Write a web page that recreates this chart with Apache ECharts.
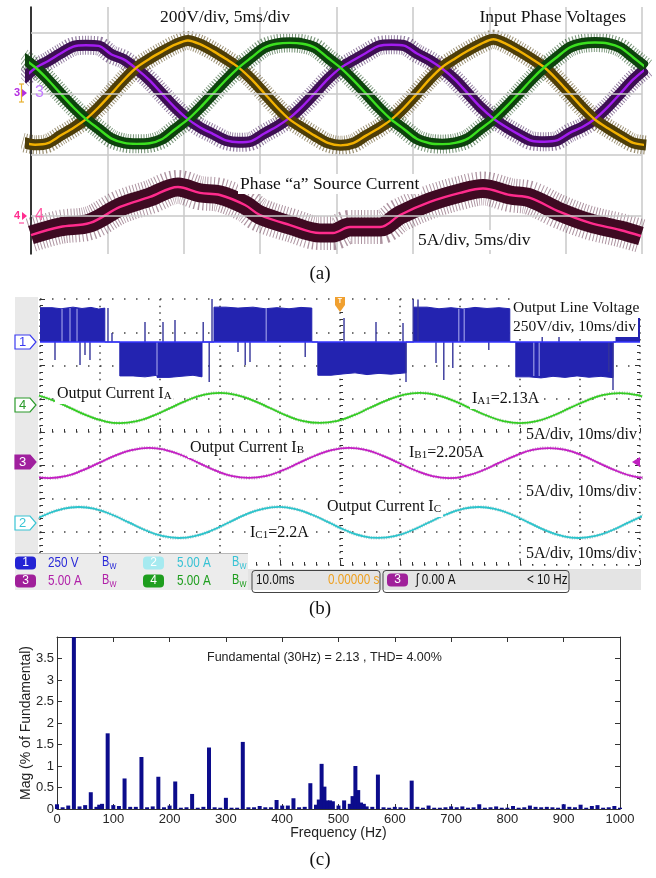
<!DOCTYPE html>
<html>
<head>
<meta charset="utf-8">
<script src="https://cdn.jsdelivr.net/npm/echarts@6.0.0/dist/echarts.min.js"></script>
<style>
html,body{margin:0;padding:0;background:#ffffff;}
#chart{width:656px;height:878px;}
</style>
</head>
<body>
<div id="chart"></div>
<script>
// ================= DATA =================
// Panel (a): input phase voltages (V, 200 V/div) sampled in ms (5 ms/div)
const tA = [-0.57,0.27,1.10,1.93,2.77,3.60,4.43,5.27,6.10,6.93,7.77,8.60,9.43,10.27,11.10,11.93,12.77,13.60,14.43,15.27,16.10,16.93,17.77,18.60,19.43,20.27,21.10,21.93,22.77,23.60,24.43,25.27,26.10,26.93,27.77,28.60,29.43,30.27,31.10,31.93,32.77,33.60,34.43,35.27,36.10,36.93,37.77,38.60,39.43,40.27];
const vPurple = [46,83,106,131,154,158,156,128,111,80,43,-2,-46,-84,-112,-133,-154,-160,-156,-131,-108,-80,-42,2,47,84,109,133,156,160,157,131,109,81,45,0,-45,-82,-110,-134,-155,-158,-154,-129,-110,-83,-44,1,46,82];
const vYellow = [-160,-168,-163,-138,-113,-84,-45,0,46,86,114,138,160,174,161,139,113,85,47,1,-45,-85,-113,-139,-162,-170,-163,-138,-114,-85,-46,0,47,87,115,140,162,178,163,140,114,86,46,0,-46,-86,-114,-139,-162,-169];
const vGreen = [118,86,46,0,-45,-84,-116,-148,-162,-165,-163,-149,-117,-85,-45,0,45,85,118,150,163,166,163,150,117,84,44,0,-46,-86,-117,-149,-163,-166,-162,-148,-116,-84,-44,0,46,86,119,151,164,167,164,150,118,85];
// Panel (a): phase "a" source current (A, 5 A/div)
const tSrc = [0,1.90,3.86,5.83,7.79,9.62,11.06,12.37,14.01,14.99,16.96,18.92,19.77,20.88,22.85,24.16,26.12,28.09,29.59,31.36,32.67,34.63,36.60,38.56,39.93];
const iSrc = [-1.56,-0.90,-0.57,0.74,1.56,2.38,1.89,1.72,0.90,0.08,-0.74,-1.39,-1.39,-0.90,-0.90,0.08,1.15,1.89,2.25,1.72,1.48,0.33,-0.57,-1.15,-1.64];

// Panel (b): output line voltage (V, 250 V/div) step breakpoints [ms, V]
const lineVoltage = [[0,258],[2.0,250],[3.5,262],[5.5,252],[7.0,260],[8.5,248],[9.8,255],[10.8,0],
 [13.3,-255],[15.5,-262],[17.5,-250],[19.5,-266],[21.5,-258],[23.5,-250],[25.5,-262],[27.0,0],
 [29.0,262],[31.0,255],[33.0,262],[35.5,250],[37.5,258],[39.5,250],[41.5,260],[43.5,255],[45.3,0],
 [46.3,-250],[48.5,-240],[50.5,-232],[52.5,-245],[54.5,-236],[56.5,-242],[58.5,-232],[61.0,0],
 [62.3,262],[64.5,250],[66.5,258],[68.5,248],[70.5,260],[72.5,252],[74.5,258],[76.5,250],[78.3,0],
 [79.3,-262],[81.5,-270],[83.5,-258],[85.5,-266],[87.5,-255],[89.5,-265],[91.5,-258],[93.5,-268],[95.5,0],
 [96.0,255],[98.0,262],[100,262]];
const voltSpikes = [[2.5,-135],[6.67,-173],[7.5,-98],[8.33,-135],[11.33,256],[12.0,68],[17.5,150],[20.5,150],[22.5,165],[27.2,150],[28.2,-300],[28.67,338],[33.0,-75],[34.2,-173],[35.0,-150],[44.2,-113],[50.67,180],[56.0,150],[60.5,143],[61.0,-300],[62.2,330],[63.0,320],[66.0,-158],[67.3,-286],[68.8,-196],[74.8,-60],[83.7,53],[86.5,53],[94.8,-226],[95.5,-361]];
const voltStreaks = [[3.67,250],[5.0,255],[6.17,250],[19.5,-250],[37.7,255],[69.8,250],[70.7,250],[82.3,-255],[83.2,-255]];
// Panel (b): output currents (A, 5 A/div), time in ms (10 ms/div)
const iaT = [-0.56,2.22,5.00,7.78,10.56,13.33,16.11,18.89,21.67,24.44,27.22,30.00,32.78,35.56,38.33,41.11,43.89,46.67,49.44,52.22,55.00,57.78,60.56,63.33,66.11,68.89,71.67,74.44,77.22,80.00,82.78,85.56,88.33,91.11,93.89,96.67,99.44,102.22];
const iaV = [1.96,1.13,0.02,-1.10,-1.95,-2.28,-1.98,-1.15,-0.02,1.12,1.97,2.27,1.95,1.12,0.00,-1.14,-1.97,-2.25,-1.96,-1.12,0.03,1.14,1.97,2.26,1.95,1.11,-0.02,-1.13,-1.96,-2.27,-1.97,-1.13,0.01,1.12,1.96,2.25,1.96,1.13];
const ibT = [-1.28,1.50,4.28,7.06,9.83,12.61,15.39,18.17,20.94,23.72,26.50,29.28,32.06,34.83,37.61,40.39,43.17,45.94,48.72,51.50,54.28,57.06,59.83,62.61,65.39,68.17,70.94,73.72,76.50,79.28,82.06,84.83,87.61,90.39,93.17,95.94,98.72,101.50];
const ibV = [-1.96,-2.26,-1.97,-1.12,0.01,1.14,1.96,2.27,1.95,1.13,-0.01,-1.14,-1.97,-2.25,-1.96,-1.12,0.02,1.13,1.97,2.26,1.96,1.12,0.00,-1.13,-1.96,-2.27,-1.95,-1.13,0.01,1.12,1.97,2.25,1.96,1.14,-0.01,-1.13,-1.96,-2.26];
const icT = [-1.87,0.91,3.69,6.47,9.24,12.02,14.80,17.58,20.36,23.13,25.91,28.69,31.47,34.24,37.02,39.80,42.58,45.36,48.13,50.91,53.69,56.47,59.24,62.02,64.80,67.58,70.36,73.13,75.91,78.69,81.47,84.24,87.02,89.80,92.58,95.36,98.13,100.91];
const icV = [0.00,1.17,2.02,2.33,2.02,1.17,0.01,-1.16,-2.02,-2.33,-2.01,-1.17,0.00,1.18,2.02,2.34,2.01,1.16,0.01,-1.17,-2.03,-2.32,-2.02,-1.17,0.00,1.17,2.02,2.33,2.01,1.17,-0.01,-1.18,-2.02,-2.33,-2.02,-1.16,0.01,1.17];

// Panel (c): harmonic spectrum [Hz, % of fundamental]
const spectrum = [[0,0.11],[10,0.04],[20,0.08],[30,100],[40,0.06],[50,0.09],[60,0.39],[70,0.05],[75,0.1],[80,0.12],
 [90,1.76],[100,0.09],[110,0.07],[120,0.71],[130,0.05],[140,0.05],[150,1.21],[160,0.04],[170,0.06],[180,0.75],
 [190,0.04],[200,0.08],[210,0.64],[220,0.03],[230,0.04],[240,0.35],[250,0.03],[260,0.05],[270,1.43],[280,0.04],
 [290,0.03],[300,0.26],[310,0.03],[320,0.03],[330,1.56],[340,0.04],[350,0.04],[360,0.07],[370,0.04],[380,0.04],
 [390,0.21],[400,0.08],[410,0.08],[420,0.25],[430,0.04],[440,0.05],[450,0.6],[460,0.1],[465,0.22],[470,1.05],
 [475,0.52],[480,0.2],[485,0.2],[490,0.18],[500,0.08],[510,0.2],[520,0.12],[525,0.3],[530,1.0],[535,0.44],
 [540,0.15],[545,0.12],[550,0.06],[560,0.05],[570,0.8],[580,0.04],[590,0.03],[600,0.05],[610,0.04],[620,0.03],
 [630,0.66],[640,0.05],[650,0.03],[660,0.08],[670,0.03],[680,0.03],[690,0.04],[700,0.06],[710,0.04],[720,0.06],
 [730,0.03],[740,0.04],[750,0.11],[760,0.03],[770,0.04],[780,0.06],[790,0.03],[800,0.03],[810,0.07],[820,0.03],
 [830,0.04],[840,0.08],[850,0.05],[860,0.04],[870,0.05],[880,0.04],[890,0.03],[900,0.11],[910,0.05],[920,0.04],
 [930,0.1],[940,0.03],[950,0.07],[960,0.09],[970,0.03],[980,0.04],[990,0.07],[1000,0.03]];
const freqTicks = {min:0, max:1000, step:100};
const magTicks = {min:0, max:4, step:0.5};

// ================= LAYOUT / HELPERS =================
const A = {left:31, top:7, width:611, height:247};
const B = {left:40, top:299, width:600, height:266};
const C = {left:57, top:637, width:563, height:172};
function rangeFor(g, zeroPx, pxPerDiv, unitsPerDiv){
  return {min: -((g.top+g.height)-zeroPx)/pxPerDiv*unitsPerDiv, max: (zeroPx-g.top)/pxPerDiv*unitsPerDiv};
}
function zip(t, v){ return t.map((x,i)=>[x, v[i]]); }
const SERIF = '"Liberation Serif","Times New Roman",serif';
const SANS = '"Liberation Sans",Arial,sans-serif';
const ctx2 = document.createElement('canvas').getContext('2d');
function tw(font, s){ ctx2.font = font; return ctx2.measureText(s).width; }
const G = [];
function addText(x, y, s, font, fill, align, sx){
  G.push({type:'text', x:x, y:y, z:100, silent:true, scaleX: sx || 1, originX:0, originY:0,
    style:{text:s, font:font, fill:fill, textFill:fill, align:align||'left', textAlign:align||'left', verticalAlign:'middle', textVerticalAlign:'middle'}});
}
function addRect(x,y,w,h,fill,stroke,r,lw){
  G.push({type:'rect', z:99, silent:true, shape:{x:x,y:y,width:w,height:h,r:r||0}, style:{fill:fill||null, stroke:stroke||null, lineWidth:lw||1}});
}
function addPoly(points, fill, stroke, lw){
  G.push({type:'polygon', z:100, silent:true, shape:{points:points}, style:{fill:fill||null, stroke:stroke||null, lineWidth:lw||1}});
}
function addLine(points, stroke, lw){
  G.push({type:'polyline', z:100, silent:true, shape:{points:points}, style:{fill:null, stroke:stroke, lineWidth:lw||1}});
}
function addParts(x, y, parts, fill, bg){
  let cx = x; const items = [];
  parts.forEach(p => { items.push([cx, p]); cx += tw(p[1], p[0]); });
  if (bg) addRect(x-2, y-10, cx-x+4, 20, '#ffffff');
  items.forEach(([px,p]) => addText(px, y+(p[2]||0), p[0], p[1], fill||'#000'));
}

// ---------- Panel (a) texts ----------
const fA = '17.5px ' + SERIF;
addText(160, 17, '200V/div, 5ms/div', fA, '#111');
addText(626, 17, 'Input Phase Voltages', fA, '#111', 'right');
addParts(240, 184, [['Phase \u201ca\u201d Source Current', fA]], '#111', true);
addParts(418, 240, [['5A/div, 5ms/div', fA]], '#111', true);
addText(320, 274, '(a)', '19px ' + SERIF, '#111', 'center');
addText(14, 93, '3', 'bold 11px ' + SANS, '#b42ee0');
addPoly([[22,89],[22,97],[27,93]], '#b42ee0');
addLine([[19,84],[24,84]], '#e8b030', 1.2); addLine([[21.5,84],[21.5,102]], '#e8b030', 1.2); addLine([[19,102],[24,102]], '#e8b030', 1.2);
addText(35, 93, '3', '16px ' + SANS, '#c47cff');
addText(14, 216, '4', 'bold 11px ' + SANS, '#ff2d8f');
addPoly([[22,212],[22,220],[27,216]], '#ff2d8f');
addLine([[19,223],[24,223]], '#ff2d8f', 1);
addText(35, 216, '4', '16px ' + SANS, '#ff5aa5');

// ---------- Panel (b) decorations ----------
addRect(15, 297, 23, 256, '#e9e9e9');
function tag(yc, color, filled, label){
  addPoly([[15,yc-7],[30,yc-7],[36,yc],[30,yc+7],[15,yc+7]], filled ? color : '#ffffff', color, 1.2);
  addText(22.5, yc, label, '13px ' + SANS, filled ? '#ffffff' : color, 'center');
}
tag(342, '#3a3af0', false, '1');
tag(405, '#2a9a2a', false, '4');
tag(462, '#a0209e', true, '3');
tag(523, '#38c4d4', false, '2');
addPoly([[335,297],[345,297],[345,305],[340,312],[335,305]], '#f0a030');
addText(340, 301, 'T', 'bold 7px ' + SANS, '#ffffff', 'center');
addPoly([[640,457],[640,467],[632,462]], '#c020c0');

const fB = '15.5px ' + SERIF, fB16 = '16px ' + SERIF, fSub = '11px ' + SERIF;
addParts(513, 308, [['Output Line Voltage', fB]], '#111', true);
addParts(513, 327, [['250V/div, 10ms/div', fB]], '#111', true);
addParts(57, 394, [['Output Current I', fB16], ['A', fSub, 2]], '#111', true);
addParts(472, 399, [['I', fB16], ['A1', fSub, 2], ['=2.13A', fB16]], '#111', true);
addParts(526, 435, [['5A/div, 10ms/div', fB16]], '#111', true);
addParts(190, 448, [['Output Current I', fB16], ['B', fSub, 2]], '#111', true);
addParts(409, 453, [['I', fB16], ['B1', fSub, 2], ['=2.205A', fB16]], '#111', true);
addParts(526, 492, [['5A/div, 10ms/div', fB16]], '#111', true);
addParts(327, 507, [['Output Current I', fB16], ['C', fSub, 2]], '#111', true);
addParts(250, 533, [['I', fB16], ['C1', fSub, 2], ['=2.2A', fB16]], '#111', true);
addParts(526, 554, [['5A/div, 10ms/div', fB16]], '#111', true);
addText(320, 609, '(b)', '19px ' + SERIF, '#111', 'center');

// status bar
addRect(15, 553, 233, 37, '#ececec');
addLine([[15,553.5],[248,553.5]], '#b8b8b8', 1);
addRect(248, 569, 393, 21, '#e4e4e4');
const SX = 0.78;
const fS = '15px ' + SANS, fBw = '14px ' + SANS, fW = '9.5px ' + SANS;
function badge(x, yc, fill, label){
  addRect(x, yc-6.5, 21, 13, fill, null, 4);
  addText(x+10.5, yc, label, '12px ' + SANS, '#ffffff', 'center');
}
function bw(x, yc, color){ addText(x, yc-1, 'B', fBw, color, 'left', SX); addText(x+7.5, yc+3, 'W', fW, color, 'left', SX); }
badge(15, 563, '#2424d4', '1'); addText(48, 563, '250 V', fS, '#2a2ad8', 'left', SX); bw(102, 563, '#2a2ad8');
badge(143, 563, '#a6eaf0', '2'); addText(177, 563, '5.00 A', fS, '#36c2d4', 'left', SX); bw(232, 563, '#36c2d4');
badge(15, 581, '#a0209a', '3'); addText(48, 581, '5.00 A', fS, '#b020a8', 'left', SX); bw(102, 581, '#b020a8');
badge(143, 581, '#1e9e1e', '4'); addText(177, 581, '5.00 A', fS, '#1e9e1e', 'left', SX); bw(232, 581, '#1e9e1e');
addRect(252, 570.5, 128, 22, null, '#444', 3, 1);
addText(256, 580, '10.0ms', fS, '#111', 'left', SX);
addText(328, 580, '0.00000 s', fS, '#eea020', 'left', SX);
addRect(383, 570.5, 186, 22, null, '#444', 3, 1);
badge(387, 580, '#a0209a', '3');
addText(416, 580, '\u0283 0.00 A', fS, '#111', 'left', SX);
addText(527, 580, '< 10 Hz', fS, '#111', 'left', SX);

// ---------- Panel (c) texts ----------
addText(207, 658, 'Fundamental (30Hz) = 2.13 , THD= 4.00%', '12.5px ' + SANS, '#222');
addText(320, 860, '(c)', '19px ' + SERIF, '#111', 'center');

// ================= AXES =================
const rV = rangeFor(A, 93.5, 61, 200), rI = rangeFor(A, 216, 61, 5);
const r1 = rangeFor(B, 342, 33.25, 250), r4 = rangeFor(B, 408, 33.25, 5), r3 = rangeFor(B, 463, 33.25, 5), r2 = rangeFor(B, 522.5, 33.25, 5);
const tickCol = '#333';
const divTicks = (len) => ({axisTick:{show:true, inside:true, length:len, lineStyle:{color:tickCol, width:1}}, minorTick:{show:true, splitNumber:5, length:3, lineStyle:{color:tickCol, width:1}}});

const xAxis = [
  {gridIndex:0, type:'value', min:0, max:40, interval:5, position:'bottom', axisLine:{show:false}, axisTick:{show:false}, axisLabel:{show:false},
   splitLine:{show:true, lineStyle:{color:'#c8c8c8', width:1.5}}},
  {gridIndex:1, type:'value', min:0, max:100, position:'bottom', show:false},
  Object.assign({gridIndex:1, type:'value', min:-5, max:5, interval:1, position:'bottom', axisLabel:{show:false},
   axisLine:{show:true, onZero:true, onZeroAxisIndex:2, lineStyle:{opacity:0}},
   splitLine:{show:true, lineStyle:{type:[1.5,5.15], color:'#444', width:1.5}}}, divTicks(4)),
  Object.assign({gridIndex:1, type:'value', min:-5, max:5, interval:1, position:'bottom', axisLabel:{show:false},
   axisLine:{show:true, onZero:false, lineStyle:{opacity:0}}, splitLine:{show:false}}, divTicks(5)),
  {gridIndex:2, type:'value', min:freqTicks.min, max:freqTicks.max, interval:freqTicks.step, position:'bottom',
   axisLine:{show:true, onZero:false, lineStyle:{color:'#333', width:1}}, axisTick:{show:true, inside:true, length:5, lineStyle:{color:'#333'}},
   axisLabel:{show:true, margin:4, fontSize:13, color:'#262626', fontFamily:SANS, formatter:(v)=>String(v)},
   splitLine:{show:false}, name:'Frequency (Hz)', nameLocation:'middle', nameGap:17, nameMoveOverlap:false,
   nameTextStyle:{fontSize:14, color:'#222', fontFamily:SANS}},
  {gridIndex:2, type:'value', min:freqTicks.min, max:freqTicks.max, interval:freqTicks.step, position:'top',
   axisLine:{show:true, onZero:false, lineStyle:{color:'#333', width:1}}, axisTick:{show:true, inside:true, length:5, lineStyle:{color:'#333'}},
   axisLabel:{show:false}, splitLine:{show:false}}
];
const yAxis = [
  {gridIndex:0, type:'value', min:rV.min, max:rV.max, position:'left', axisLine:{show:true, lineStyle:{color:'#000', width:1.5}}, axisTick:{show:false}, axisLabel:{show:false}, splitLine:{show:false}},
  {gridIndex:0, type:'value', min:rI.min, max:rI.max, position:'right', show:false},
  Object.assign({gridIndex:1, type:'value', min:-4, max:4, interval:1, position:'left', axisLabel:{show:false},
   axisLine:{show:true, onZero:true, onZeroAxisIndex:2, lineStyle:{opacity:0}},
   splitLine:{show:true, lineStyle:{type:[1.5,10.5], color:'#444', width:1.5}}}, divTicks(4)),
  Object.assign({gridIndex:1, type:'value', min:-4, max:4, interval:1, position:'left', axisLabel:{show:false},
   axisLine:{show:true, onZero:false, lineStyle:{opacity:0}}, splitLine:{show:false}}, divTicks(5)),
  Object.assign({gridIndex:1, type:'value', min:-4, max:4, interval:1, position:'right', axisLabel:{show:false},
   axisLine:{show:true, onZero:false, lineStyle:{opacity:0}}, splitLine:{show:false}}, divTicks(5)),
  {gridIndex:1, type:'value', min:r1.min, max:r1.max, position:'left', show:false},
  {gridIndex:1, type:'value', min:r4.min, max:r4.max, position:'left', show:false},
  {gridIndex:1, type:'value', min:r3.min, max:r3.max, position:'left', show:false},
  {gridIndex:1, type:'value', min:r2.min, max:r2.max, position:'left', show:false},
  {gridIndex:2, type:'value', min:magTicks.min, max:magTicks.max, interval:magTicks.step, position:'left',
   axisLine:{show:true, onZero:false, lineStyle:{color:'#333', width:1}}, axisTick:{show:true, inside:true, length:5, lineStyle:{color:'#333'}},
   axisLabel:{show:true, margin:3, fontSize:13, color:'#262626', fontFamily:SANS, formatter:(v)=> v >= magTicks.max ? '' : String(v)},
   splitLine:{show:false}, name:'Mag (% of Fundamental)', nameLocation:'middle', nameGap:24, nameMoveOverlap:false,
   nameTextStyle:{fontSize:14, color:'#222', fontFamily:SANS}},
  {gridIndex:2, type:'value', min:magTicks.min, max:magTicks.max, interval:magTicks.step, position:'right',
   axisLine:{show:true, onZero:false, lineStyle:{color:'#333', width:1}}, axisTick:{show:true, inside:true, length:5, lineStyle:{color:'#333'}},
   axisLabel:{show:false}, splitLine:{show:false}}
];

// ================= SERIES =================
function lineS(xi, yi, data, color, width, opacity, z, smooth, dash){
  return {type:'line', xAxisIndex:xi, yAxisIndex:yi, data:data, smooth:smooth, symbol:'none', silent:true, z:z, clip:true,
    lineStyle:{color:color, width:width, opacity:opacity, cap:'butt', join:'round', type: dash || 'solid'}};
}
const P = zip(tA, vPurple), Y = zip(tA, vYellow), Gr = zip(tA, vGreen), Is = zip(tSrc, iSrc);
const series = [
  {type:'line', xAxisIndex:0, yAxisIndex:0, data:[[0,0]], symbol:'none', silent:true, z:1, lineStyle:{opacity:0},
   markLine:{silent:true, symbol:'none', animation:false, label:{show:false}, lineStyle:{color:'#c8c8c8', width:1.5, type:'solid'},
     data:[{yAxis:200},{yAxis:0},{yAxis:-200},{yAxis:-400}]}},
  lineS(0,1,Is,'#6a3a52',34,0.55,2,0.35,[1,2.2]),
  lineS(0,0,P,'#4a2460',19,0.6,2,0.3,[1,1.8]),
  lineS(0,0,Y,'#5a4818',19,0.6,2,0.3,[1,1.8]),
  lineS(0,0,Gr,'#1d4d1d',19,0.6,2,0.3,[1,1.8]),
  lineS(0,1,Is,'#3e0a22',19,1,3,0.35),
  lineS(0,0,P,'#3c0f52',11,1,3,0.3),
  lineS(0,0,Y,'#4d3d08',11,1,3,0.3),
  lineS(0,0,Gr,'#0d420d',11,1,3,0.3),
  lineS(0,0,P,'#a21cf0',2.4,1,4,0.3),
  lineS(0,0,Y,'#f2b100',2.4,1,4,0.3),
  lineS(0,0,Gr,'#3be01f',2.4,1,4,0.3),
  lineS(0,1,Is,'#ff2b8c',2.4,1,4,0.35),
  {type:'line', xAxisIndex:1, yAxisIndex:5, data:lineVoltage, step:'end', symbol:'none', silent:true, z:2, clip:true,
   lineStyle:{color:'#2323b0', width:1}, areaStyle:{color:'#2323b0', opacity:1},
   markLine:{silent:true, symbol:'none', animation:false, label:{show:false}, lineStyle:{color:'#3535ff', width:1.6, type:'solid'}, data:[{yAxis:0}]}},
  {type:'custom', xAxisIndex:1, yAxisIndex:5, data:voltSpikes, z:3, silent:true, clip:true, encode:{x:0, y:1},
   renderItem:(params, api)=>{ const a = api.coord([api.value(0),0]), b = api.coord([api.value(0),api.value(1)]);
     return {type:'line', shape:{x1:a[0],y1:a[1],x2:b[0],y2:b[1]}, style:{stroke:'#34349a', lineWidth:1.4}}; }},
  {type:'custom', xAxisIndex:1, yAxisIndex:5, data:voltStreaks, z:3, silent:true, clip:true, encode:{x:0, y:1},
   renderItem:(params, api)=>{ const a = api.coord([api.value(0),0]), b = api.coord([api.value(0),api.value(1)]);
     return {type:'line', shape:{x1:a[0],y1:a[1],x2:b[0],y2:b[1]}, style:{stroke:'#9a9ae6', lineWidth:1.2}}; }},
  lineS(1,6,zip(iaT,iaV),'#1f7a1f',3.2,0.45,3,0.5,[1,1.5]),
  lineS(1,7,zip(ibT,ibV),'#7a1a7a',3.2,0.45,3,0.5,[1,1.5]),
  lineS(1,8,zip(icT,icV),'#1f7f86',3.2,0.45,3,0.5,[1,1.5]),
  lineS(1,6,zip(iaT,iaV),'#33cc22',1.8,1,4,0.5),
  lineS(1,7,zip(ibT,ibV),'#c41ec4',1.8,1,4,0.5),
  lineS(1,8,zip(icT,icV),'#2cc4cc',1.8,1,4,0.5),
  {type:'bar', xAxisIndex:4, yAxisIndex:9, data:spectrum, barWidth:4, clip:true, silent:true, z:2, itemStyle:{color:'#0c0c8c'}}
];

const option = {
  animation:false,
  backgroundColor:'#ffffff',
  textStyle:{fontFamily:SANS},
  grid:[
    {left:A.left, top:A.top, width:A.width, height:A.height, containLabel:false, outerBoundsMode:'none'},
    {left:B.left, top:B.top, width:B.width, height:B.height, containLabel:false, outerBoundsMode:'none'},
    {left:C.left, top:C.top, width:C.width, height:C.height, containLabel:false, outerBoundsMode:'none'}
  ],
  xAxis:xAxis, yAxis:yAxis, series:series, graphic:G
};
const chart = echarts.init(document.getElementById('chart'), null, {renderer:'canvas'});
chart.setOption(option);
</script>
</body>
</html>
